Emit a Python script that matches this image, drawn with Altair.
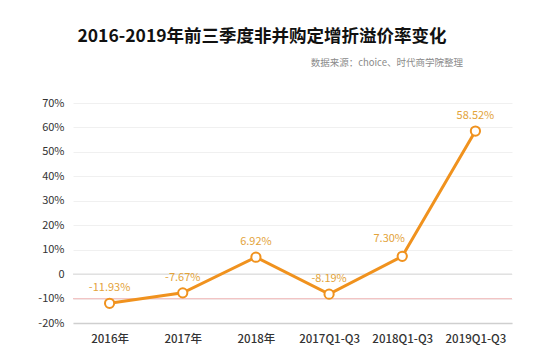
import altair as alt
import pandas as pd

categories = ["2016年", "2017年", "2018年", "2017Q1-Q3", "2018Q1-Q3", "2019Q1-Q3"]
values = [-11.93, -7.67, 6.92, -8.19, 7.30, 58.52]
labels = ["-11.93%", "-7.67%", "6.92%", "-8.19%", "7.30%", "58.52%"]
y_ticks = [-20, -10, 0, 10, 20, 30, 40, 50, 60, 70]

title_text = "2016-2019年前三季度非并购定增折溢价率变化"
source_text = "数据来源：choice、时代商学院整理"

df = pd.DataFrame({"cat": categories, "val": values, "lab": labels})

FONT = "Noto Sans CJK SC"
ORANGE = "#F0921E"
LABEL_COLOR = "#E3A33A"
YSCALE = alt.Scale(domain=[-20, 70], nice=False, zero=False)

x = alt.X("cat:N", sort=categories, title=None,
          scale=alt.Scale(paddingInner=0, paddingOuter=0),
          axis=alt.Axis(labelAngle=0, ticks=False, grid=False, domain=True, domainColor="#cfcfcf",
                        domainWidth=1.5, labelFont=FONT, labelFontSize=11.5,
                        labelFontWeight=500, labelColor="#333333", labelPadding=10))
y = alt.Y("val:Q", title=None, scale=YSCALE,
          axis=alt.Axis(values=y_ticks, domain=False, ticks=False, gridColor="#f0f0f0",
                        labelOverlap=False,
                        labelFont=FONT, labelFontSize=11, labelColor="#333333", labelPadding=9,
                        labelExpr="datum.value == 0 ? '0' : datum.value + '%'"))

base = alt.Chart(df)

zero_rule = alt.Chart(pd.DataFrame({"val": [0]})).mark_rule(color="#dddddd", strokeWidth=1.2).encode(y=y)
neg_rule = alt.Chart(pd.DataFrame({"val": [-10]})).mark_rule(color="#f2c4c4", strokeWidth=1.2).encode(y=y)

line = base.mark_line(color=ORANGE, strokeWidth=3).encode(x=x, y=y)
pts = base.mark_point(shape="circle", filled=True, fill="white", stroke=ORANGE,
                      strokeWidth=2, size=85, opacity=1).encode(x=x, y=y)
txt = base.transform_filter(alt.datum.cat != "2018Q1-Q3").mark_text(
    dy=-15, font=FONT, fontSize=11, color=LABEL_COLOR).encode(x=x, y=y, text="lab:N")
txt2 = base.transform_filter(alt.datum.cat == "2018Q1-Q3").mark_text(
    dy=-17, dx=-13, font=FONT, fontSize=11, color=LABEL_COLOR).encode(x=x, y=y, text="lab:N")

title = alt.Chart(pd.DataFrame({"t": [title_text]})).mark_text(
    font=FONT, fontSize=17.5, fontWeight="bold", color="#111111", align="center", baseline="middle"
).encode(x=alt.value(189), y=alt.value(-66), text="t:N")
sub = alt.Chart(pd.DataFrame({"t": [source_text]})).mark_text(
    font=FONT, fontSize=9.5, color="#8a8a8a", align="right", baseline="middle"
).encode(x=alt.value(390), y=alt.value(-40), text="t:N")

chart = alt.layer(zero_rule, neg_rule, line, pts, txt, txt2, title, sub).properties(
    width=439, height=220,
    autosize=alt.AutoSizeParams(type="none"),
    padding={"left": 73, "top": 103, "right": 42, "bottom": 32},
    background="white",
).configure_view(stroke=None)

chart.save("out.html", embed_options={"renderer": "svg", "actions": False})
